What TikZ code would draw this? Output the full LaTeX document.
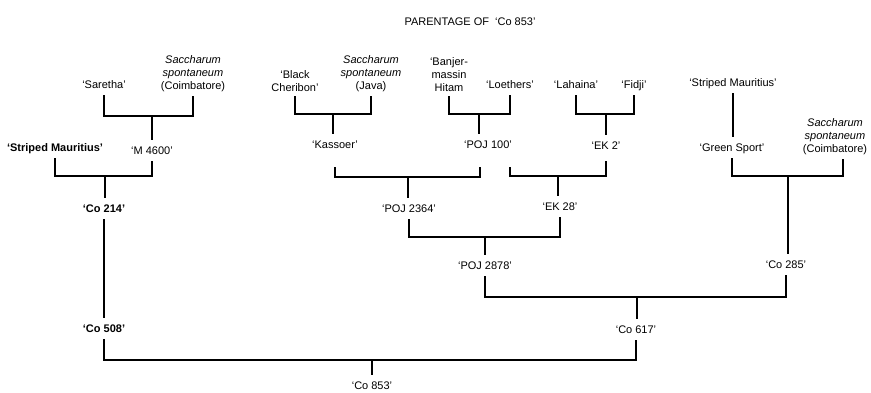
\documentclass[tikz,border=0pt]{standalone}
\usepackage{fontspec}
\setmainfont{Liberation Sans}
\newcommand{\cvfont}{\fontsize{11}{13}\selectfont}

\begin{document}
\begin{tikzpicture}[x=1pt, y=-1pt,
   every node/.style={font=\cvfont, inner sep=1pt},
   cv/.style={text height=8pt, text depth=2.5pt},
   sp/.style={align=center, anchor=south},
   dark/.style={font=\cvfont\bfseries},
   link/.style={line width=1.3pt, shorten <=3pt, shorten >=3pt},
   stem/.style={line width=1.3pt, shorten >=6pt}]
   \useasboundingbox (0,0) rectangle (871,392);
   \fill[white] (0,0) rectangle (871,392);

   \node (title) at (470,22) {PARENTAGE OF\hspace{3pt} `Co 853'};

   % oldest parents
   \node[cv] (sare) at (104,86) {`Saretha'};
   \node[sp] (scoimA) at (193,93) {\textit{Saccharum}\\\textit{spontaneum}\\(Coimbatore)};
   \node[sp] (black) at (295,93) {`Black\\Cheribon'};
   \node[sp] (sjava) at (371,93) {\textit{Saccharum}\\\textit{spontaneum}\\(Java)};
   \node[sp] (banjer) at (449,93) {`Banjer-\\massin\\Hitam};
   \node[cv] (loeth) at (510,86) {`Loethers'};
   \node[cv] (laha) at (576,86) {`Lahaina'};
   \node[cv] (fidji) at (634,86) {`Fidji'};
   \node[cv] (strR) at (733,84) {`Striped Mauritius'};
   \node[sp] (scoimB) at (835,156) {\textit{Saccharum}\\\textit{spontaneum}\\(Coimbatore)};

   % second row
   \node[cv, dark] (strL) at (55,149) {`Striped Mauritius'};
   \node[cv] (m4600) at (152,152) {`M 4600'};
   \node[cv] (kass) at (335,146) {`Kassoer'};
   \node[cv] (poj100) at (488,146) {`POJ 100'};
   \node[cv] (ek2) at (606,147) {`EK 2'};
   \node[cv] (green) at (732,149) {`Green Sport'};

   \node[cv, dark] (co214) at (104,210) {`Co 214'};
   \node[cv] (poj2364) at (409,210) {`POJ 2364'};
   \node[cv] (ek28) at (560,208) {`EK 28'};

   \node[cv] (poj2878) at (485,267) {`POJ 2878'};
   \node[cv] (co285) at (786,266) {`Co 285'};

   \node[cv, dark] (co508) at (104,330) {`Co 508'};
   \node[cv] (co617) at (636,331) {`Co 617'};

   \node[cv] (co853) at (372,387) {`Co 853'};

   % crosses
   \coordinate (j1) at (152,116);
   \coordinate (j2) at (105,176);
   \coordinate (j3) at (333,114);
   \coordinate (j4) at (479,114);
   \coordinate (j5) at (606,114);
   \coordinate (j6) at (408,177);
   \coordinate (j7) at (558,176);
   \coordinate (j8) at (788,176);
   \coordinate (j9) at (485,237);
   \coordinate (j10) at (637,297);
   \coordinate (j11) at (372,360);

   \draw[link] (sare.south) |- (j1) -| (scoimA.south);
   \draw[stem] (j1) -- (j1 |- m4600.north);
   \draw[link] (strL.south) |- (j2) -| (m4600.south);
   \draw[stem] (j2) -- (j2 |- co214.north);

   \draw[link] (black.south) |- (j3) -| (sjava.south);
   \draw[stem] (j3) -- (j3 |- kass.north);
   \draw[link] (banjer.south) |- (j4) -| (loeth.south);
   \draw[stem] (j4) -- (j4 |- poj100.north);
   \draw[link] (laha.south) |- (j5) -| (fidji.south);
   \draw[stem] (j5) -- (j5 |- ek2.north);
   \draw[stem, shorten <=3pt] (strR.south) -- (strR.south |- green.north);

   \draw[link, shorten <=15pt, shorten >=15pt] (kass.south) |- (j6) -| ([xshift=-8pt]poj100.south);
   \draw[stem] (j6) -- (j6 |- poj2364.north);
   \draw[link, shorten <=15pt, shorten >=8pt] ([xshift=22pt]poj100.south) |- (j7) -| (ek2.south);
   \draw[stem] (j7) -- (j7 |- ek28.north);
   \draw[link] (green.south) |- (j8) -| ([xshift=8pt]scoimB.south);
   \draw[stem] (j8) -- (j8 |- co285.north);

   \draw[link] (poj2364.south) |- (j9) -| (ek28.south);
   \draw[stem] (j9) -- (j9 |- poj2878.north);
   \draw[link] (poj2878.south) |- (j10) -| (co285.south);
   \draw[stem] (j10) -- (j10 |- co617.north);

   \draw[stem, shorten <=3pt] (co214.south) -- (co508.north);
   \draw[link] (co508.south) |- (j11) -| (co617.south);
   \draw[stem] (j11) -- (j11 |- co853.north);
\end{tikzpicture}
\end{document}
